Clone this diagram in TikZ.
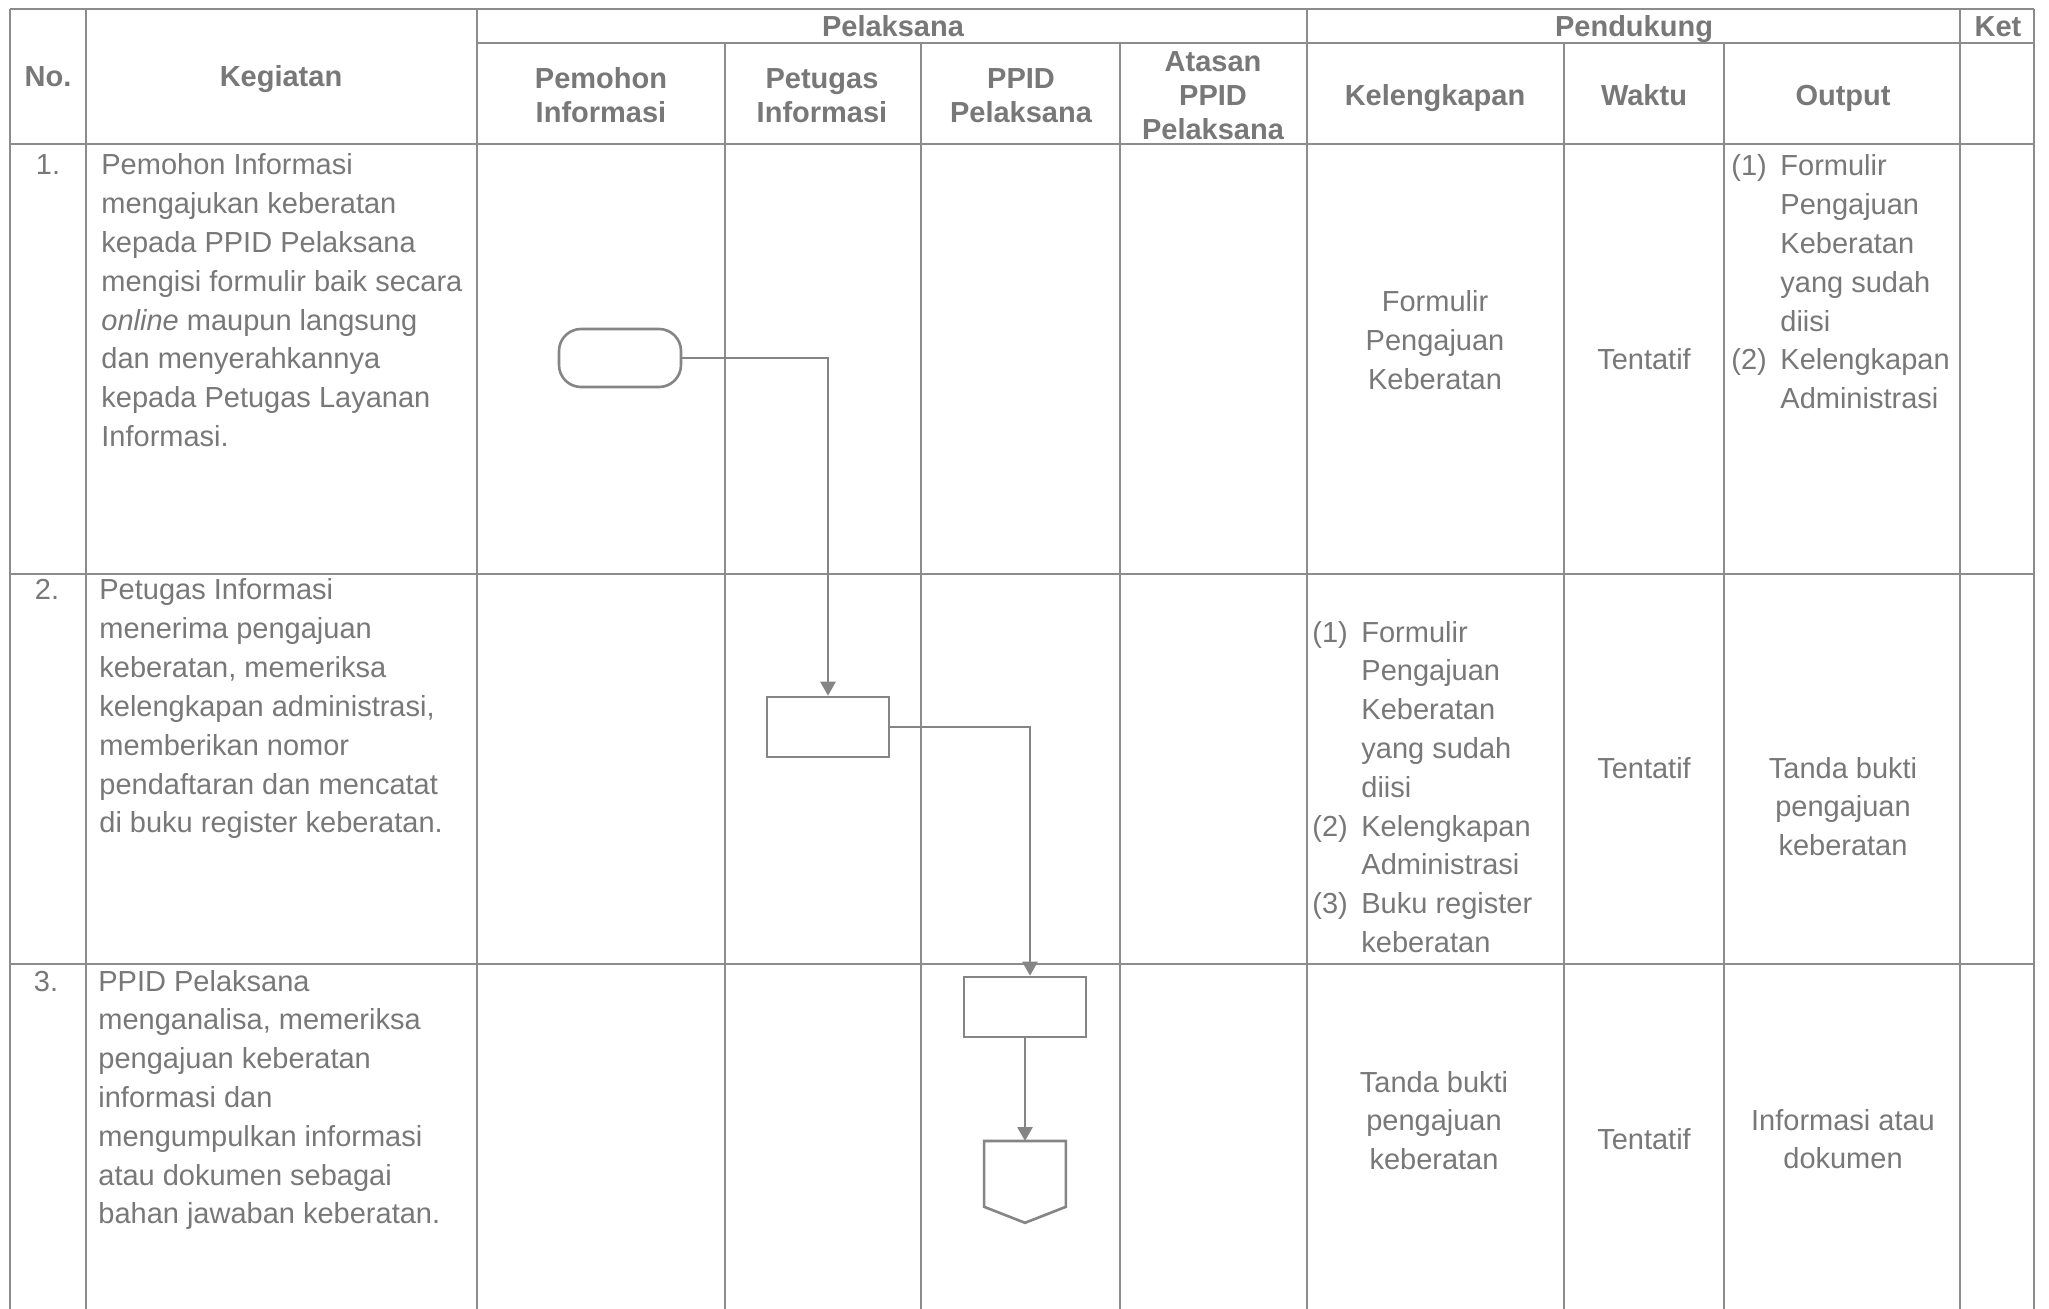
\documentclass[tikz,border=0pt]{standalone}
\usepackage{fontspec}
\setmainfont{Liberation Sans}
\usetikzlibrary{arrows.meta}
\definecolor{txt}{HTML}{787878}
\definecolor{ln}{HTML}{8C8C8C}
\definecolor{shp}{HTML}{858585}
\begin{document}
\begin{tikzpicture}[x=0.5pt,y=-0.5pt,
  grid/.style={draw=ln,line width=0.8pt},
  body/.style={inner sep=0pt,text=txt,font=\fontsize{14.5}{19.4}\selectfont},
  hdr/.style={inner sep=0pt,text=txt,font=\fontsize{14.5}{16.8}\selectfont\bfseries},
  term/.style={draw=shp,line width=1.3pt,rectangle,rounded corners=11pt,minimum width=61pt,minimum height=29pt,inner sep=0pt},
  proc/.style={draw=shp,line width=1.3pt,rectangle,minimum width=61pt,minimum height=30pt,inner sep=0pt},
  offbox/.style={rectangle,minimum width=40.5pt,minimum height=40.5pt,inner sep=0pt},
  flow/.style={draw=shp,line width=1.4pt,-{Triangle[width=7.5pt,length=7pt]}},
]
\useasboundingbox (0,0) rectangle (2049,1309);
\fill[white] (0,0) rectangle (2049,1309);

% table grid
\draw[grid] (10,9) -- (2034,9);
\draw[grid] (477,43) -- (2034,43);
\draw[grid] (10,144) -- (2034,144);
\draw[grid] (10,574) -- (2034,574);
\draw[grid] (10,964) -- (2034,964);
\foreach \xx in {10,86,477,1307,1960,2034} \draw[grid] (\xx,9) -- (\xx,1309);
\foreach \xx in {725,921,1120,1564,1724} \draw[grid] (\xx,43) -- (\xx,1309);

% headers
\node[hdr,anchor=base] (hno) at (48,87) {No.};
\node[hdr,anchor=base] (hkeg) at (281,87) {Kegiatan};
\node[hdr,anchor=base] (hpel) at (893,37) {Pelaksana};
\node[hdr,anchor=base] (hpen) at (1634,37) {Pendukung};
\node[hdr,anchor=base] (hket) at (1998,37) {Ket};
\node[hdr,anchor=base] (hpem) at (601,89) {\begin{tabular}[t]{@{}c@{}}Pemohon\\Informasi\end{tabular}};
\node[hdr,anchor=base] (hpet) at (822,89) {\begin{tabular}[t]{@{}c@{}}Petugas\\Informasi\end{tabular}};
\node[hdr,anchor=base] (hppid) at (1021,89) {\begin{tabular}[t]{@{}c@{}}PPID\\Pelaksana\end{tabular}};
\node[hdr,anchor=base] (hata) at (1213,72) {\begin{tabular}[t]{@{}c@{}}Atasan\\PPID\\Pelaksana\end{tabular}};
\node[hdr,anchor=base] (hkel) at (1435,106) {Kelengkapan};
\node[hdr,anchor=base] (hwak) at (1644,106) {Waktu};
\node[hdr,anchor=base] (hout) at (1843,106) {Output};

% row numbers
\node[body,anchor=base] (n1) at (48,175) {1.};
\node[body,anchor=base] (n2) at (47,600) {2.};
\node[body,anchor=base] (n3) at (46,991) {3.};

% kegiatan
\node[body,anchor=base west] (k1) at (101,175) {\begin{tabular}[t]{@{}l@{}}Pemohon Informasi\\mengajukan keberatan\\kepada PPID Pelaksana\\mengisi formulir baik secara\\\textit{online} maupun langsung\\dan menyerahkannya\\kepada Petugas Layanan\\Informasi.\end{tabular}};
\node[body,anchor=base west] (k2) at (99,600) {\begin{tabular}[t]{@{}l@{}}Petugas Informasi\\menerima pengajuan\\keberatan, memeriksa\\kelengkapan administrasi,\\memberikan nomor\\pendaftaran dan mencatat\\di buku register keberatan.\end{tabular}};
\node[body,anchor=base west] (k3) at (98,991) {\begin{tabular}[t]{@{}l@{}}PPID Pelaksana\\menganalisa, memeriksa\\pengajuan keberatan\\informasi dan\\mengumpulkan informasi\\atau dokumen sebagai\\bahan jawaban keberatan.\end{tabular}};

% kelengkapan
\node[body,anchor=base] (kl1) at (1435,312) {\begin{tabular}[t]{@{}c@{}}Formulir\\Pengajuan\\Keberatan\end{tabular}};
\node[body,anchor=base west] (kl2) at (1312,642) {\begin{tabular}[t]{@{}l@{}l@{}}\makebox[24.5pt][l]{(1)}&Formulir\\&Pengajuan\\&Keberatan\\&yang sudah\\&diisi\\\makebox[24.5pt][l]{(2)}&Kelengkapan\\&Administrasi\\\makebox[24.5pt][l]{(3)}&Buku register\\&keberatan\end{tabular}};
\node[body,anchor=base] (kl3) at (1434,1092) {\begin{tabular}[t]{@{}c@{}}Tanda bukti\\pengajuan\\keberatan\end{tabular}};

% waktu
\node[body,anchor=base] (w1) at (1644,370) {Tentatif};
\node[body,anchor=base] (w2) at (1644,778) {Tentatif};
\node[body,anchor=base] (w3) at (1644,1149) {Tentatif};

% output
\node[body,anchor=base west] (o1) at (1731,176) {\begin{tabular}[t]{@{}l@{}l@{}}\makebox[24.5pt][l]{(1)}&Formulir\\&Pengajuan\\&Keberatan\\&yang sudah\\&diisi\\\makebox[24.5pt][l]{(2)}&Kelengkapan\\&Administrasi\end{tabular}};
\node[body,anchor=base] (o2) at (1843,778) {\begin{tabular}[t]{@{}c@{}}Tanda bukti\\pengajuan\\keberatan\end{tabular}};
\node[body,anchor=base] (o3) at (1843,1130) {\begin{tabular}[t]{@{}c@{}}Informasi atau\\dokumen\end{tabular}};

% flow shapes
\node[term] (t1) at (620,358) {};
\node[proc] (b2) at (828,727) {};
\node[proc] (b3) at (1025,1007) {};
\node[offbox,anchor=north] (off) at (1025,1141) {};
\draw[draw=shp,line width=1.3pt,line join=miter]
  (off.north west) -- (off.north east) -- ([yshift=8pt]off.south east)
  -- (off.south) -- ([yshift=8pt]off.south west) -- cycle;

\draw[flow] (t1.east) -| (b2.north);
\draw[flow] (b2.east) -| ([xshift=2.5pt]b3.north);
\draw[flow] (b3.south) -- (off.north);
\end{tikzpicture}
\end{document}
